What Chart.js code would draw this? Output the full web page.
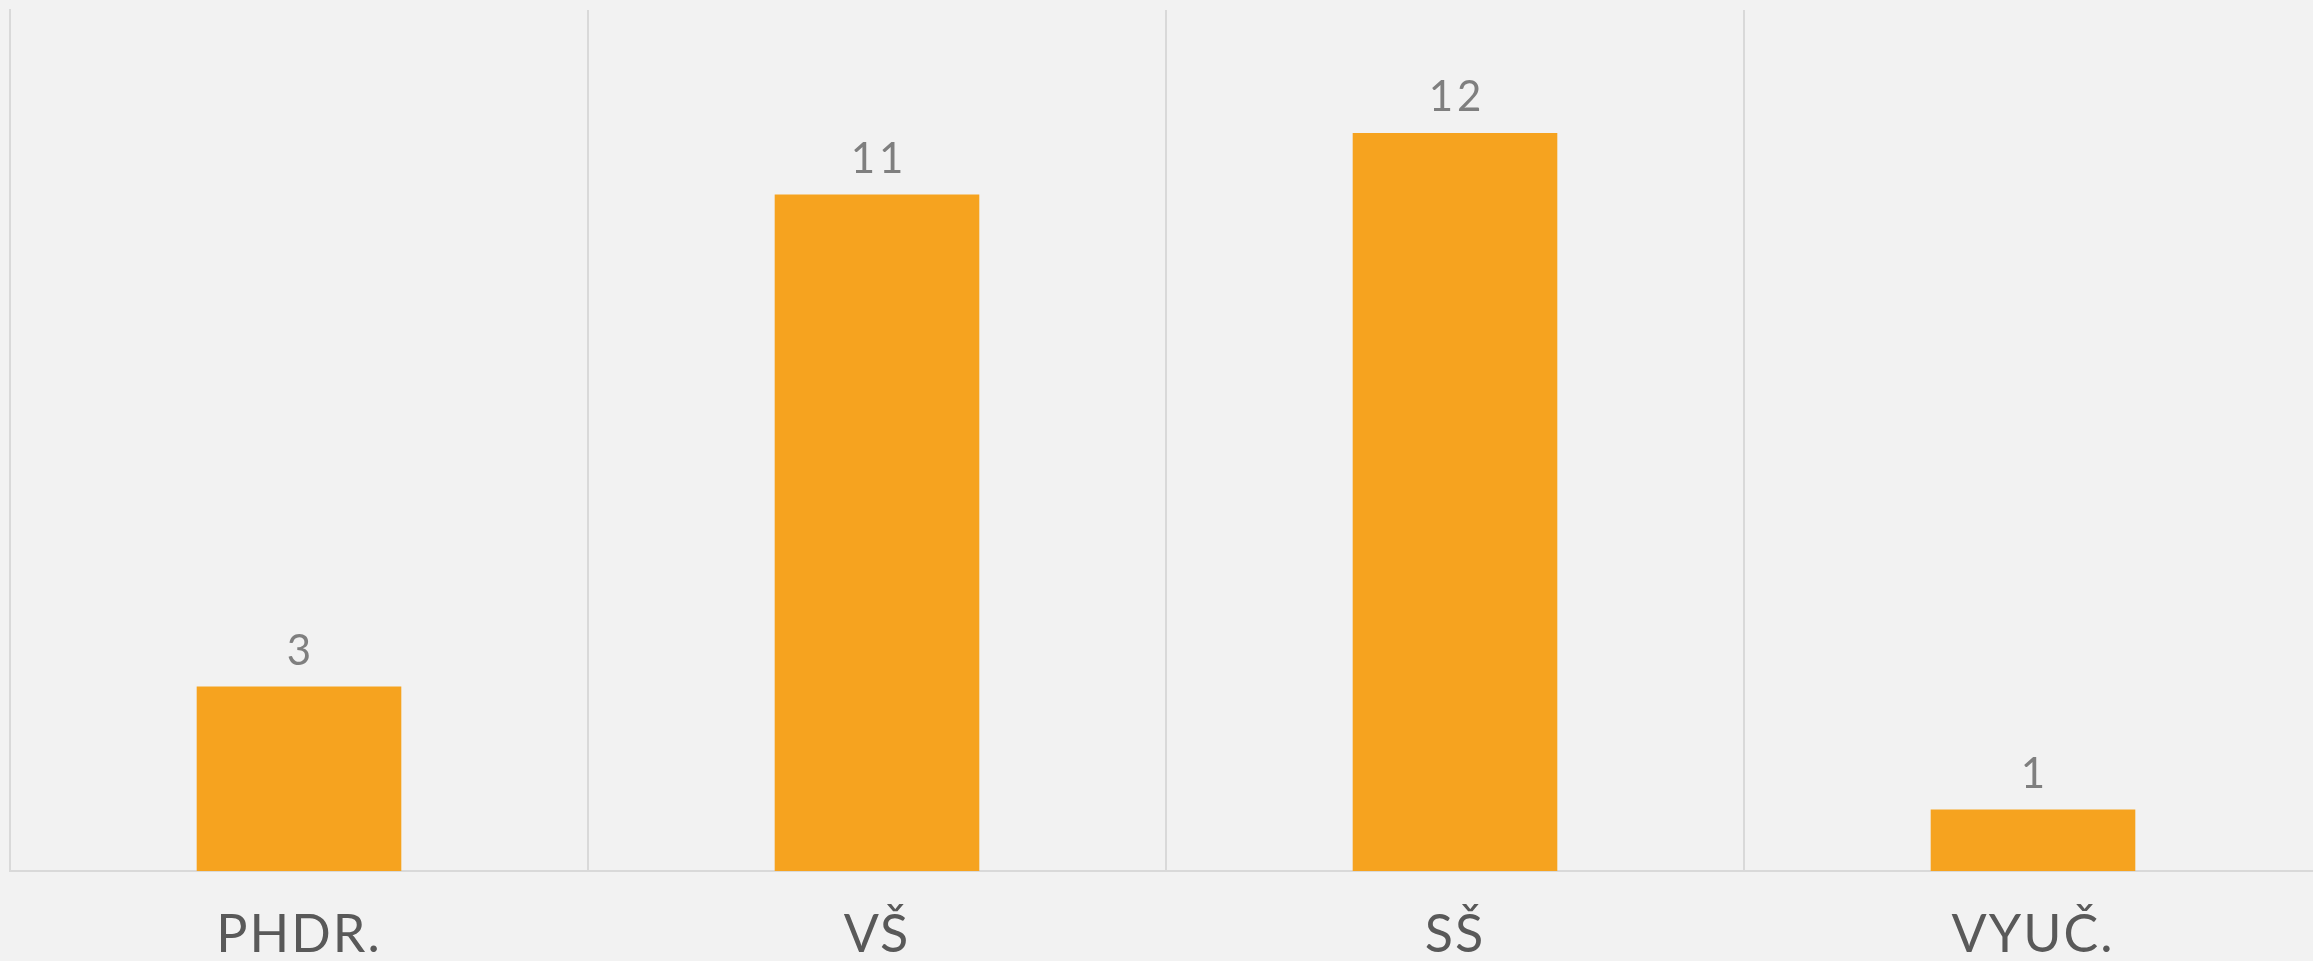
<!DOCTYPE html>
<html>
<head>
<meta charset="utf-8">
<script src="https://cdn.jsdelivr.net/npm/chart.js@4.4.1/dist/chart.umd.min.js"></script>
<style>
  html, body { margin: 0; padding: 0; background: #f2f2f2; overflow: hidden; }
  /* the plot runs a few pixels past the right edge, as in the original */
  #wrap { width: 2313px; height: 961px; overflow: hidden; }
</style>
</head>
<body>
<div id="wrap"><canvas id="chart" width="2322" height="961"></canvas></div>
<script>
const categories = ['PHDR.', 'VŠ', 'SŠ', 'VYUČ.'];
const counts = [3, 11, 12, 1];
const yMax = 14;

// draws the number above each bar
const valueLabels = {
  id: 'valueLabels',
  afterDatasetsDraw(chart) {
    const ctx = chart.ctx;
    const meta = chart.getDatasetMeta(0);
    ctx.save();
    ctx.font = '42px Lato';
    ctx.letterSpacing = '4px';
    ctx.fillStyle = '#7f7f7f';
    ctx.textAlign = 'center';
    ctx.textBaseline = 'alphabetic';
    meta.data.forEach((bar, i) => {
      ctx.fillText(String(counts[i]), bar.x + 2, bar.y - 22);
    });
    ctx.restore();
  }
};

// a little letter spacing on the category names
const spacing = {
  id: 'spacing',
  beforeDraw(chart) { chart.ctx.letterSpacing = '2px'; }
};

const ctx = document.getElementById('chart').getContext('2d');
new Chart(ctx, {
  type: 'bar',
  data: {
    labels: categories,
    datasets: [{
      data: counts,
      backgroundColor: '#f6a31f',
      borderWidth: 0,
      barPercentage: 0.354,
      categoryPercentage: 1
    }]
  },
  options: {
    responsive: false,
    animation: false,
    layout: { padding: { left: 10, top: 10, right: 0, bottom: 0 } },
    plugins: {
      legend: { display: false },
      tooltip: { enabled: false }
    },
    scales: {
      x: {
        grid: { color: '#d9d9d9', lineWidth: 2, drawTicks: false, offset: true },
        border: { color: '#d9d9d9', width: 2 },
        ticks: {
          color: '#595959',
          font: { family: 'Lato', size: 52 },
          padding: 33,
          maxRotation: 0
        },
        afterFit(scale) { scale.height = 90; }
      },
      y: {
        min: 0,
        max: yMax,
        display: true,
        grid: { display: false, drawTicks: false },
        border: { color: '#d9d9d9', width: 2 },
        ticks: { display: false }
      }
    }
  },
  plugins: [spacing, valueLabels]
});
</script>
</body>
</html>
